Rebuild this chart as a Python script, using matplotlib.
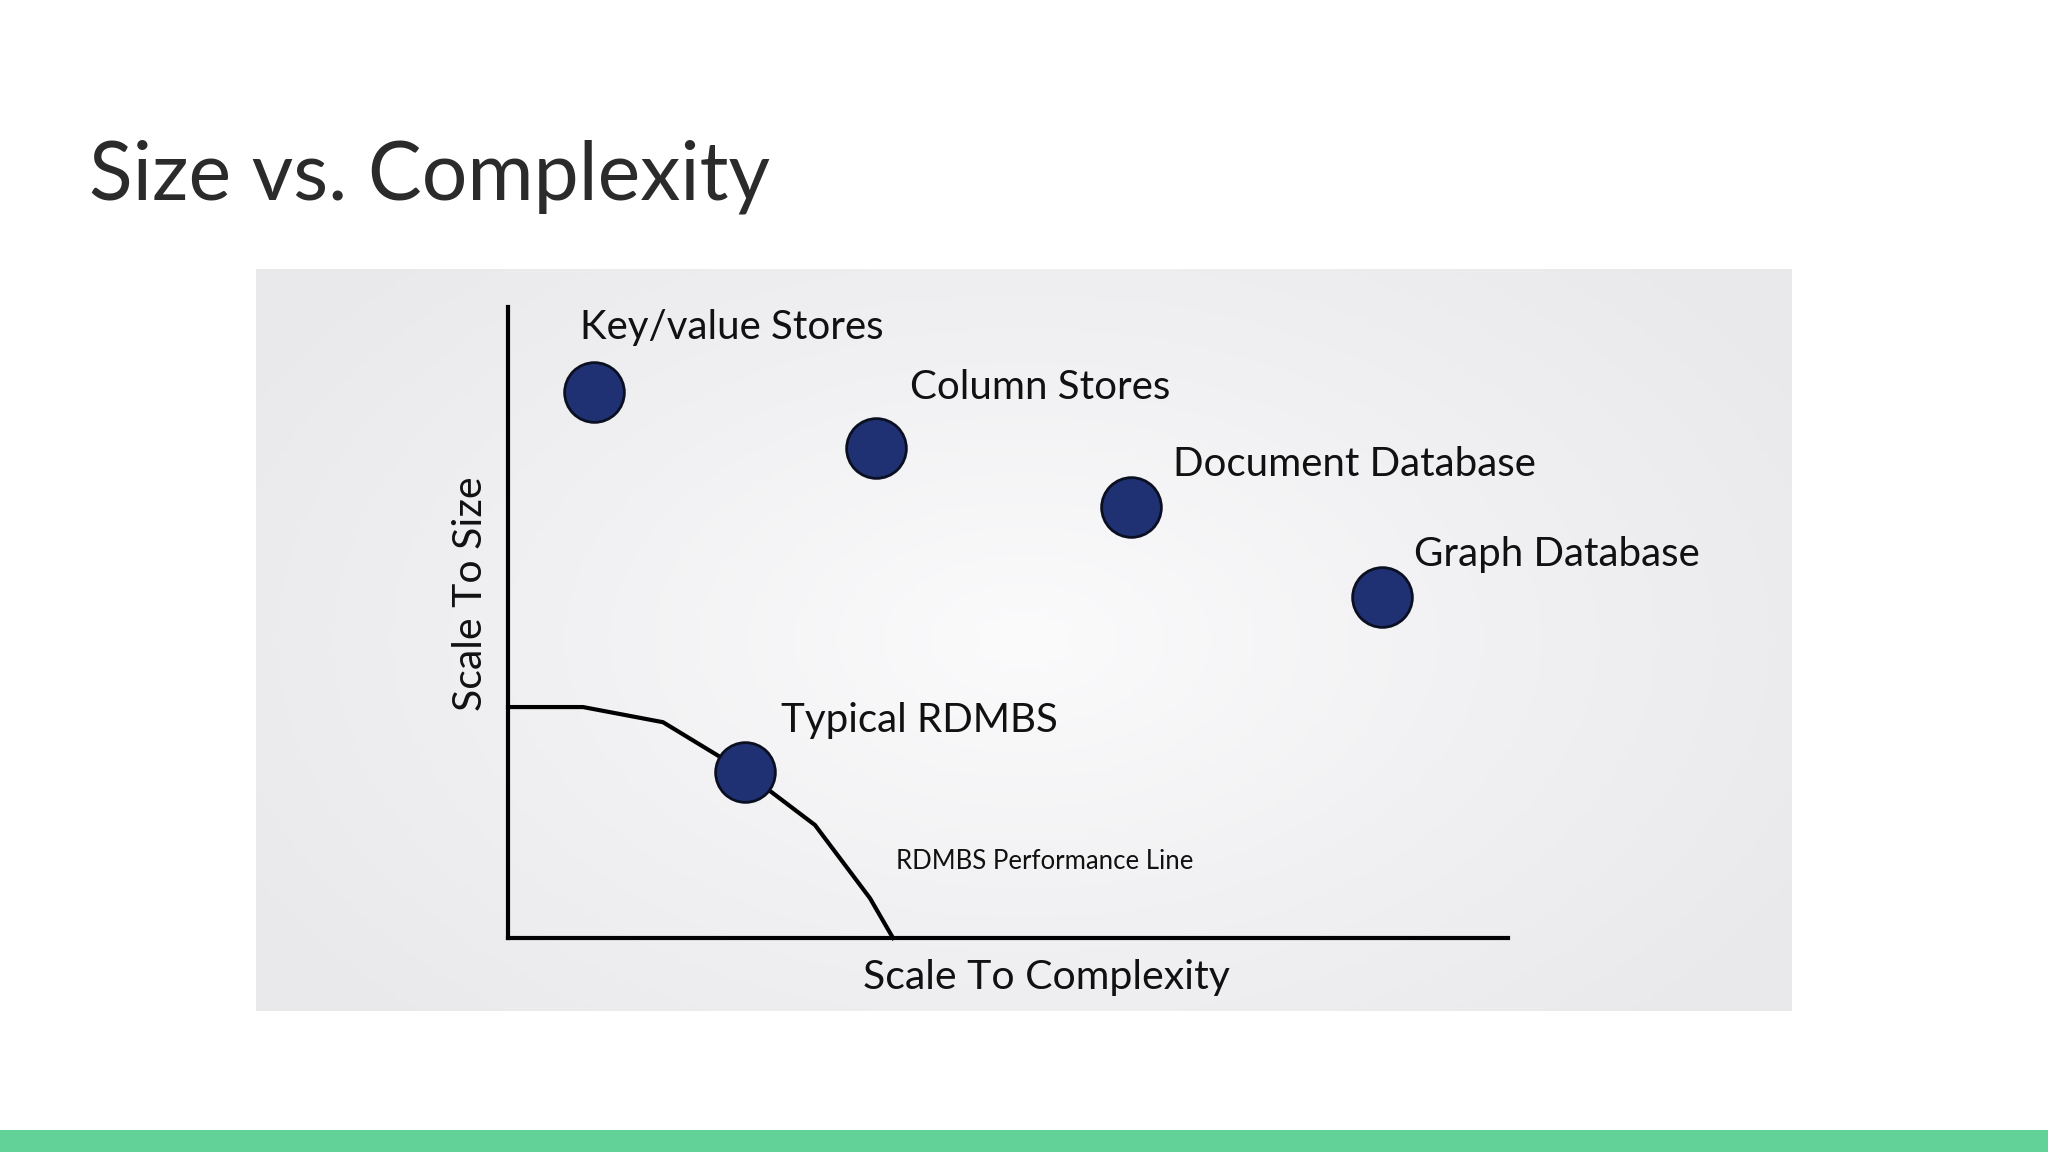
import numpy as np
import matplotlib.pyplot as plt
from matplotlib.colors import LinearSegmentedColormap
from matplotlib.patches import Rectangle

# data: positions on abstract 0-100 scales (complexity, size)
stores = ["Key/value Stores", "Column Stores", "Document Database", "Graph Database", "Typical RDMBS"]
complexity = [8.6, 36.8, 62.3, 87.4, 23.7]
size = [86.5, 77.7, 68.3, 54.0, 26.3]

# RDBMS performance line
line_x = [0, 7.5, 15.5, 23.7, 30.7, 36.2, 38.5]
line_y = [36.6, 36.6, 34.2, 26.3, 17.9, 6.3, 0]

label_pos = {
    "Key/value Stores": (7.2, 96.8),
    "Column Stores": (40.2, 87.2),
    "Document Database": (66.5, 75.1),
    "Graph Database": (90.6, 60.7),
    "Typical RDMBS": (27.3, 34.4),
}

W, H = 2048, 1152
fig = plt.figure(figsize=(20.48, 11.52), dpi=100)
fig.patch.set_facecolor("white")

# title
fig.text(89 / W, 1 - 200 / H, "Size vs. Complexity", fontsize=58, family="Lato",
         color="#2b2b2b", va="baseline", ha="left")

# bottom accent bar
fig.patches.append(Rectangle((0, 0), 1, 22 / H, transform=fig.transFigure,
                             facecolor="#62d298", edgecolor="none"))

# grey panel with soft radial gradient
bg = fig.add_axes([256 / W, 1 - 1011 / H, 1536 / W, 742 / H])
yy, xx = np.mgrid[0:1:200j, 0:1:400j]
r = np.sqrt(((xx - 0.5) / 0.6) ** 2 + ((yy - 0.5) / 0.75) ** 2)
cmap = LinearSegmentedColormap.from_list("panel", ["#fbfbfc", "#f1f1f3", "#e9e9ec"])
bg.imshow(np.clip(r, 0, 1), cmap=cmap, aspect="auto", extent=[0, 1, 0, 1], vmin=0, vmax=1)
bg.axis("off")

# main chart axes
ax = fig.add_axes([508 / W, 1 - 938 / H, 1000 / W, 631 / H])
ax.patch.set_alpha(0)
ax.set_xlim(0, 100)
ax.set_ylim(0, 100)
for side in ["top", "right"]:
    ax.spines[side].set_visible(False)
for side in ["left", "bottom"]:
    ax.spines[side].set_linewidth(3)
    ax.spines[side].set_color("black")
ax.set_xticks([])
ax.set_yticks([])

ax.plot(line_x, line_y, color="black", lw=3, solid_joinstyle="round", clip_on=False, zorder=2)
ax.scatter(complexity, size, s=43 ** 2, color="#1f3172", edgecolor="#0a0f22", linewidth=2,
           zorder=3, clip_on=False)

for name in stores:
    x, y = label_pos[name]
    ax.text(x, y, name, fontsize=29, family="Lato", color="#111111", va="center", ha="left")

ax.text(38.8, 12.2, "RDMBS Performance Line", fontsize=18.5, family="Lato",
        color="#111111", va="center", ha="left")
ax.text(53.8, -6.2, "Scale To Complexity", fontsize=29.5, family="Lato",
        color="#111111", va="center", ha="center", clip_on=False)
ax.text(-3.8, 54.5, "Scale To Size", fontsize=29.5, family="Lato", rotation=90,
        color="#111111", va="center", ha="center", clip_on=False)

fig.savefig("out.png", dpi=100)
